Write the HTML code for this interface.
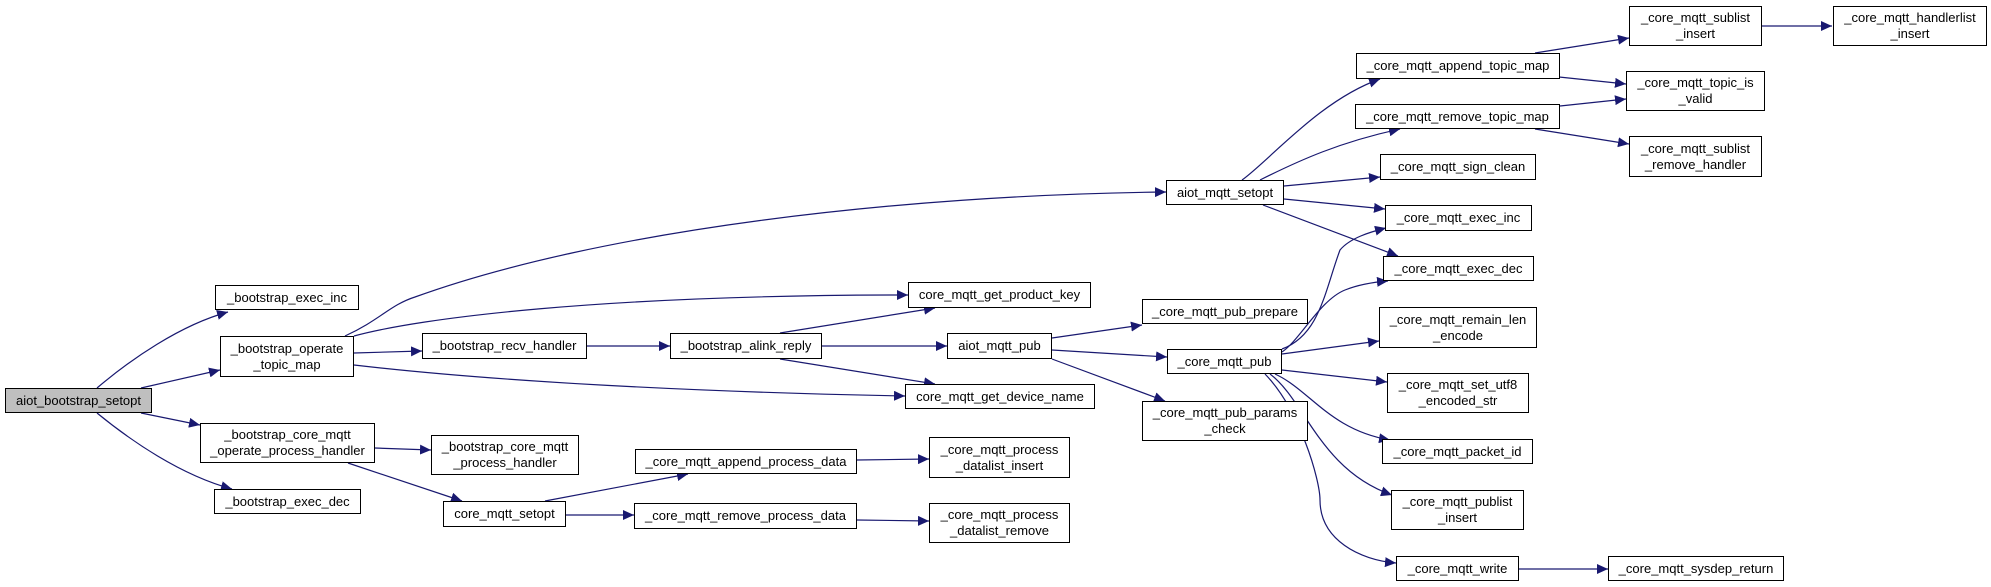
<!DOCTYPE html>
<html><head><meta charset="utf-8"><style>
html,body{margin:0;padding:0;background:#fff;}
#c{position:relative;width:1991px;height:587px;overflow:hidden;font-family:"Liberation Sans",Arial,sans-serif;font-size:13px;}
.b{position:absolute;box-sizing:border-box;border:1px solid #000;background:#fff;display:flex;align-items:center;justify-content:center;text-align:center;line-height:16px;white-space:nowrap;color:#000;}
svg{position:absolute;left:0;top:0;}
</style></head><body><div id="c">
<svg width="1991" height="587" viewBox="0 0 1991 587">
<defs><marker id="a" markerUnits="userSpaceOnUse" markerWidth="12" markerHeight="10" refX="11" refY="5" orient="auto"><path d="M0,0 L11,5 L0,10 z" fill="#191970"/></marker></defs>
<g fill="none" stroke="#191970" stroke-width="1.2" marker-end="url(#a)">
<path d="M97,388 C130,360 180,325 228,312"/>
<path d="M141,388 L220,370"/>
<path d="M141,413 L200,425"/>
<path d="M97,413 C130,440 180,475 232,489"/>
<path d="M345,336 C380,320 390,305 415,297 C600,230 900,195 1166,192"/>
<path d="M354,336 C420,318 600,295 908,295"/>
<path d="M354,353 L422,351"/>
<path d="M354,365 C500,382 700,392 905,396"/>
<path d="M587,346 L670,346"/>
<path d="M780,333 L935,308"/>
<path d="M822,346 L947,346"/>
<path d="M780,359 L935,384"/>
<path d="M1052,338 L1142,325"/>
<path d="M1052,350 L1167,357"/>
<path d="M1052,359 L1165,401"/>
<path d="M375,448 L431,450"/>
<path d="M348,463 L462,501"/>
<path d="M545,501 L688,474"/>
<path d="M566,515 L634,515"/>
<path d="M857,460 L929,459"/>
<path d="M857,520 L929,521"/>
<path d="M1242,180 C1270,160 1320,100 1380,79"/>
<path d="M1260,180 C1300,160 1340,142 1400,129"/>
<path d="M1284,186 L1380,177"/>
<path d="M1284,199 L1385,209"/>
<path d="M1263,205 L1398,256"/>
<path d="M1282,349 C1320,335 1325,290 1340,250 C1350,238 1370,232 1386,228"/>
<path d="M1282,352 C1300,340 1320,300 1345,290 C1360,284 1375,282 1388,281"/>
<path d="M1282,354 L1379,341"/>
<path d="M1282,370 L1387,382"/>
<path d="M1275,374 C1310,390 1330,430 1390,440"/>
<path d="M1270,374 C1305,400 1320,470 1392,495"/>
<path d="M1265,374 C1300,410 1320,480 1320,500 C1320,540 1360,560 1396,563"/>
<path d="M1519,569 L1608,569"/>
<path d="M1535,53 L1629,38"/>
<path d="M1559,77 L1626,84"/>
<path d="M1560,106 L1626,99"/>
<path d="M1535,129 L1629,144"/>
<path d="M1762,26 L1832,26"/>
</g></svg>
<div class="b" style="left:5px;top:388px;width:147px;height:25px;background:#bfbfbf">aiot_bootstrap_setopt</div>
<div class="b" style="left:215px;top:285px;width:144px;height:25px">_bootstrap_exec_inc</div>
<div class="b" style="left:220px;top:336px;width:134px;height:41px">_bootstrap_operate<br>_topic_map</div>
<div class="b" style="left:200px;top:423px;width:175px;height:40px">_bootstrap_core_mqtt<br>_operate_process_handler</div>
<div class="b" style="left:214px;top:489px;width:147px;height:25px">_bootstrap_exec_dec</div>
<div class="b" style="left:422px;top:333px;width:165px;height:26px">_bootstrap_recv_handler</div>
<div class="b" style="left:431px;top:435px;width:148px;height:40px">_bootstrap_core_mqtt<br>_process_handler</div>
<div class="b" style="left:443px;top:501px;width:123px;height:26px">core_mqtt_setopt</div>
<div class="b" style="left:670px;top:333px;width:152px;height:26px">_bootstrap_alink_reply</div>
<div class="b" style="left:635px;top:449px;width:222px;height:25px">_core_mqtt_append_process_data</div>
<div class="b" style="left:634px;top:503px;width:223px;height:26px">_core_mqtt_remove_process_data</div>
<div class="b" style="left:908px;top:282px;width:183px;height:26px">core_mqtt_get_product_key</div>
<div class="b" style="left:905px;top:384px;width:190px;height:25px">core_mqtt_get_device_name</div>
<div class="b" style="left:947px;top:333px;width:105px;height:26px">aiot_mqtt_pub</div>
<div class="b" style="left:929px;top:437px;width:141px;height:41px">_core_mqtt_process<br>_datalist_insert</div>
<div class="b" style="left:929px;top:503px;width:141px;height:40px">_core_mqtt_process<br>_datalist_remove</div>
<div class="b" style="left:1166px;top:180px;width:118px;height:25px">aiot_mqtt_setopt</div>
<div class="b" style="left:1142px;top:299px;width:166px;height:25px">_core_mqtt_pub_prepare</div>
<div class="b" style="left:1167px;top:349px;width:115px;height:25px">_core_mqtt_pub</div>
<div class="b" style="left:1142px;top:401px;width:166px;height:40px">_core_mqtt_pub_params<br>_check</div>
<div class="b" style="left:1356px;top:53px;width:204px;height:26px">_core_mqtt_append_topic_map</div>
<div class="b" style="left:1355px;top:104px;width:205px;height:25px">_core_mqtt_remove_topic_map</div>
<div class="b" style="left:1380px;top:154px;width:156px;height:26px">_core_mqtt_sign_clean</div>
<div class="b" style="left:1385px;top:205px;width:147px;height:26px">_core_mqtt_exec_inc</div>
<div class="b" style="left:1383px;top:256px;width:151px;height:25px">_core_mqtt_exec_dec</div>
<div class="b" style="left:1379px;top:307px;width:158px;height:41px">_core_mqtt_remain_len<br>_encode</div>
<div class="b" style="left:1387px;top:373px;width:142px;height:40px">_core_mqtt_set_utf8<br>_encoded_str</div>
<div class="b" style="left:1382px;top:439px;width:151px;height:25px">_core_mqtt_packet_id</div>
<div class="b" style="left:1391px;top:490px;width:133px;height:40px">_core_mqtt_publist<br>_insert</div>
<div class="b" style="left:1396px;top:556px;width:123px;height:25px">_core_mqtt_write</div>
<div class="b" style="left:1608px;top:556px;width:176px;height:25px">_core_mqtt_sysdep_return</div>
<div class="b" style="left:1629px;top:6px;width:133px;height:40px">_core_mqtt_sublist<br>_insert</div>
<div class="b" style="left:1626px;top:71px;width:139px;height:40px">_core_mqtt_topic_is<br>_valid</div>
<div class="b" style="left:1629px;top:136px;width:133px;height:41px">_core_mqtt_sublist<br>_remove_handler</div>
<div class="b" style="left:1833px;top:6px;width:154px;height:40px">_core_mqtt_handlerlist<br>_insert</div>
</div></body></html>
